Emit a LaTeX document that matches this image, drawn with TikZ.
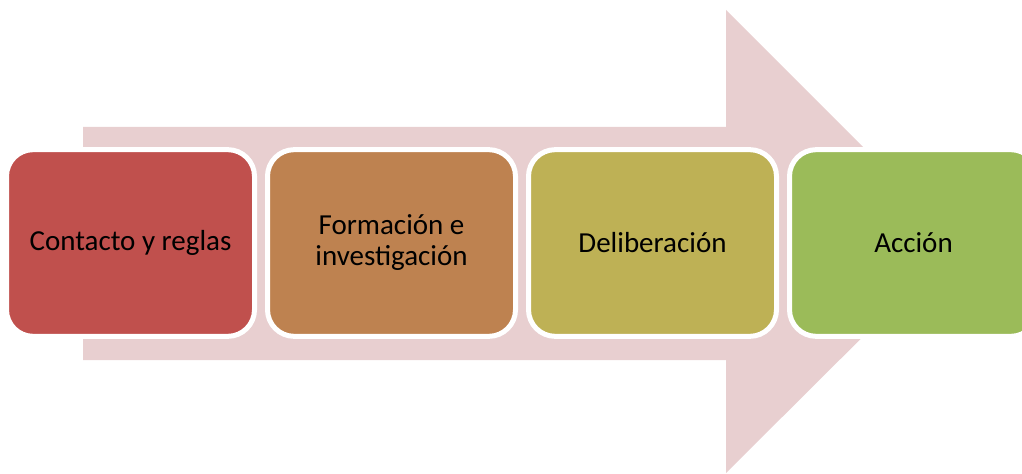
\documentclass[tikz,border=0pt]{standalone}
\usepackage{fontspec}
\setmainfont{Carlito}
\usepackage{tikz}

\definecolor{arrowpink}{RGB}{232,207,208}
\definecolor{stagered}{RGB}{192,80,77}
\definecolor{stagebrown}{RGB}{190,130,80}
\definecolor{stageolive}{RGB}{190,177,85}
\definecolor{stagegreen}{RGB}{155,187,89}

\begin{document}
\begin{tikzpicture}[
        x=0.75pt, y=-0.75pt,
        stage/.style = {rectangle, rounded corners=20pt, draw=white, line width=3.75pt, fill=#1,
                        minimum width=186pt, minimum height=140pt, inner sep=0pt,
                        align=center, font=\fontsize{21.75}{23.25}\selectfont},
        ]

        \clip (0,0) rectangle (1022,474);
        \useasboundingbox (0,0) rectangle (1022,474);

        % background arrow
        \fill[arrowpink] (83,127) -- (726,127) -- (726,10) -- (958,242)
                      -- (726,473) -- (726,360) -- (83,360) -- cycle;

        \node (contacto)   at (130.5,243) [stage=stagered]   {Contacto y reglas};
        \node (formacion)  at (391.5,243) [stage=stagebrown] {Formación e\\investigación};
        \node (deliber)    at (652.5,243) [stage=stageolive] {Deliberación};
        \node (accion)     at (913.5,243) [stage=stagegreen] {Acción};

    \end{tikzpicture}
\end{document}
